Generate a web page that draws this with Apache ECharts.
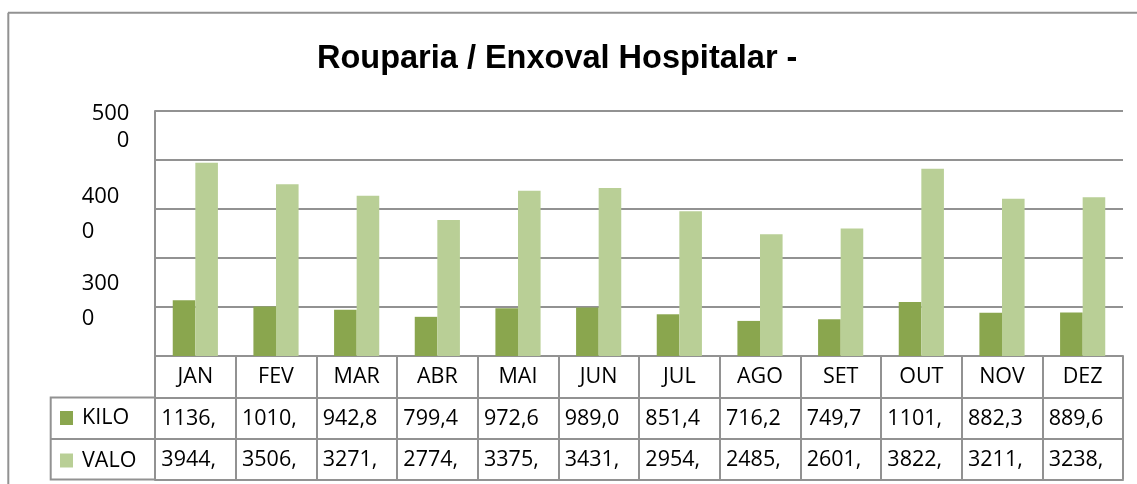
<!DOCTYPE html>
<html><head><meta charset="utf-8">
<script src="https://cdn.jsdelivr.net/npm/echarts@6/dist/echarts.min.js"></script>
<style>html,body{margin:0;padding:0;background:#fff}#c{width:1137px;height:484px}</style>
</head><body><div id="c"></div>
<script>
const months = ['JAN','FEV','MAR','ABR','MAI','JUN','JUL','AGO','SET','OUT','NOV','DEZ'];
const kilo = [1136, 1010, 942.8, 799.4, 972.6, 989.0, 851.4, 716.2, 749.7, 1101, 882.3, 889.6];
const valor = [3944, 3506, 3271, 2774, 3375, 3431, 2954, 2485, 2601, 3822, 3211, 3238];
const seriesNames = ['KILO', 'VALO'];
const yTickLabels = [5000, 4000, 3000];

const LINE = '#929292';
const FONT = '"Open Sans", sans-serif';
const cell = v => v.toFixed(1).replace('.', ',').slice(0, 5);
const chart = echarts.init(document.getElementById('c'), null, {renderer: 'canvas'});

const tableAxis = (data, offset, showLabel) => ({
  type: 'category', data: data, position: 'bottom', offset: offset, gridIndex: 0,
  axisLine: {show: true, lineStyle: {color: LINE, width: 2}},
  axisTick: {show: false}, splitLine: {show: false},
  axisLabel: {
    show: showLabel, interval: 0, margin: 10,
    formatter: s => '{v|' + s + '}',
    rich: {v: {width: 68, align: 'left', fontSize: 21.5, lineHeight: 22, fontFamily: FONT, color: '#000'}}
  }
});

const topTick = Math.max(...yTickLabels);
const option = {
  animation: false,
  backgroundColor: '#fff',
  title: {
    text: 'Rouparia / Enxoval Hospitalar -', left: 312, top: 38,
    textStyle: {fontFamily: '"Liberation Sans", Arial, sans-serif', fontWeight: 'bold', fontSize: 32.5, color: '#000'}
  },
  legend: {
    data: seriesNames, orient: 'vertical', left: 55, top: 402,
    itemWidth: 13, itemHeight: 14, itemGap: 20.5, icon: 'rect', selectedMode: false,
    textStyle: {fontFamily: FONT, fontSize: 21.5, color: '#000', padding: [0, 0, 0, 4]}
  },
  grid: {left: 155, right: 14, top: 111, bottom: 128},
  xAxis: [
    {
      type: 'category', data: months, position: 'bottom',
      axisLine: {show: true, lineStyle: {color: LINE, width: 2}},
      axisTick: {show: true, interval: 0, length: 123.5, lineStyle: {color: LINE, width: 2}},
      axisLabel: {interval: 0, margin: 10, fontSize: 21.5, lineHeight: 22, fontFamily: FONT, color: '#000'},
      splitLine: {show: false}
    },
    tableAxis(kilo.map(cell), 41.5, true),
    tableAxis(valor.map(cell), 83, true),
    tableAxis(months, 123.5, false)
  ],
  yAxis: [
    {
      type: 'value', min: 0, max: 5000, interval: 1000,
      axisLine: {show: true, lineStyle: {color: LINE, width: 2}},
      axisTick: {show: false}, axisLabel: {show: false},
      splitLine: {show: true, lineStyle: {color: LINE, width: 2}}
    },
    {
      type: 'value', position: 'left', min: 2368, max: 5184,
      axisLine: {show: false}, axisTick: {show: false}, splitLine: {show: false},
      axisLabel: {
        show: true, customValues: yTickLabels, align: 'left', margin: 73.3,
        formatter: v => {
          const s = String(v), a = s.slice(0, 3), b = s.slice(3);
          return v === topTick ? '{a|' + a + '}\n{a|' + b + '}' : '{b|' + a + '}\n{b|' + b + '}';
        },
        rich: {
          a: {fontFamily: FONT, fontSize: 22, lineHeight: 27, align: 'right', padding: [0, 0, 0, 10], color: '#000'},
          b: {fontFamily: FONT, fontSize: 22, lineHeight: 35, align: 'left', color: '#000'}
        }
      }
    }
  ],
  series: [
    {name: seriesNames[0], type: 'bar', data: kilo, xAxisIndex: 0, yAxisIndex: 0,
     itemStyle: {color: '#8aa64e'}, barGap: '0%', barCategoryGap: '44%'},
    {name: seriesNames[1], type: 'bar', data: valor, xAxisIndex: 0, yAxisIndex: 0,
     itemStyle: {color: '#b9cf96'}, barGap: '0%', barCategoryGap: '44%'}
  ],
  graphic: [
    {type: 'line', shape: {x1: 8, y1: 12.7, x2: 1137, y2: 12.7}, style: {stroke: LINE, lineWidth: 2}},
    {type: 'line', shape: {x1: 8.3, y1: 12.7, x2: 8.3, y2: 484}, style: {stroke: LINE, lineWidth: 2}},
    {type: 'rect', shape: {x: 50.7, y: 397.5, width: 104.3, height: 82}, style: {fill: 'none', stroke: LINE, lineWidth: 2}},
    {type: 'line', shape: {x1: 50.7, y1: 439, x2: 155, y2: 439}, style: {stroke: LINE, lineWidth: 2}}
  ]
};
chart.setOption(option);
</script>
</body></html>
